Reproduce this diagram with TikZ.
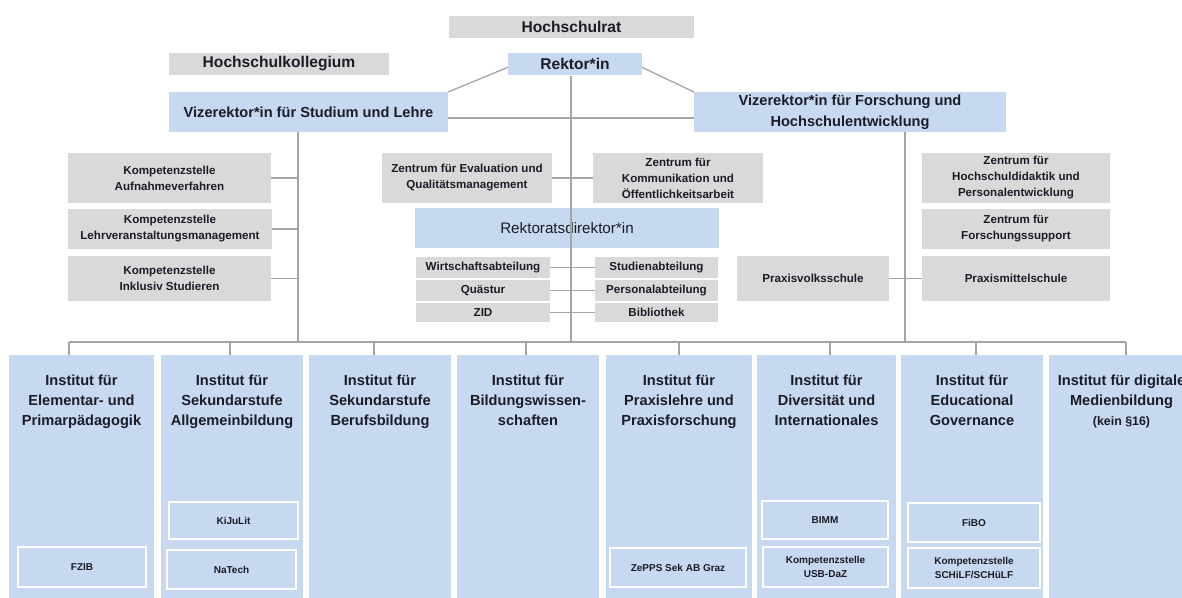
\documentclass[tikz,border=0pt]{standalone}
\usepackage{fontspec}
\setmainfont{Liberation Sans}
\usetikzlibrary{calc}
\definecolor{gboxc}{RGB}{217,217,217}
\definecolor{bboxc}{RGB}{198,217,240}
\definecolor{linc}{RGB}{165,165,165}
\definecolor{txtc}{RGB}{28,28,40}
\newcommand\ftop{\fontsize{7.8}{9}\selectfont\bfseries}
\newcommand\fvr{\fontsize{7.3}{10.3}\selectfont\bfseries}
\newcommand\frd{\fontsize{7.6}{9}\selectfont}
\newcommand\fsm{\fontsize{5.8}{8}\selectfont\bfseries}
\newcommand\finst{\fontsize{7.3}{10}\selectfont\bfseries}
\newcommand\fsub{\fontsize{5}{6.7}\selectfont\bfseries}
% style, name, x1, y1, x2, y2, text  (pixel coordinates)
\newcommand\boxnode[7]{%
  \pgfmathsetmacro\bxw{(#5-#3)*0.5}%
  \pgfmathsetmacro\bxh{(#6-#4)*0.5}%
  \node[#1, minimum width=\bxw pt, minimum height=\bxh pt] (#2) at ({(#3+#5)/2},{(#4+#6)/2}) {#7};}
\begin{document}
\begin{tikzpicture}[x=0.5pt,y=-0.5pt,
  box/.style={inner sep=0pt, outer sep=0pt, align=center, text=txtc},
  greybox/.style={box, fill=gboxc},
  bluebox/.style={box, fill=bboxc},
  subbox/.style={box, fill=bboxc, draw=white, line width=0.75pt, font=\fsub},
  smallbox/.style={greybox, font=\fsm},
  insttitle/.style={inner sep=0pt, outer sep=0pt, align=center, text=txtc, anchor=north, font=\finst},
  conn/.style={draw=linc, line width=0.65pt}]
\useasboundingbox (0,0) rectangle (1182,598);
\clip (0,0) rectangle (1182,598);

% top level
\boxnode{greybox, font=\ftop}{hr}{449}{16}{694}{38}{Hochschulrat}
\boxnode{greybox, font=\ftop}{hk}{169}{53}{389}{75}{Hochschulkollegium}
\boxnode{bluebox, font=\ftop}{rek}{508}{53}{642}{75}{Rektor*in}
\boxnode{bluebox, font=\fvr}{vrl}{169}{92}{448}{132}{Vizerektor*in für Studium und Lehre}
\boxnode{bluebox, font=\fvr}{vrr}{694}{92}{1006}{132}{Vizerektor*in für Forschung und\\Hochschulentwicklung}

% left column
\boxnode{smallbox}{ka}{68}{153}{271}{203}{Kompetenzstelle\\Aufnahmeverfahren}
\boxnode{smallbox}{kl}{68}{209}{272}{249}{Kompetenzstelle\\Lehrveranstaltungsmanagement}
\boxnode{smallbox}{ki}{68}{256}{271}{301}{Kompetenzstelle\\Inklusiv Studieren}

% middle
\boxnode{smallbox}{zeq}{382}{153}{552}{203}{Zentrum für Evaluation und\\Qualitätsmanagement}
\boxnode{smallbox}{zko}{593}{153}{763}{203}{Zentrum für\\Kommunikation und\\Öffentlichkeitsarbeit}
\boxnode{bluebox, font=\frd}{rd}{415}{208}{719}{248}{Rektoratsdirektor*in}
\boxnode{smallbox}{wa}{416}{257}{550}{278}{Wirtschaftsabteilung}
\boxnode{smallbox}{qu}{416}{280}{550}{301}{Quästur}
\boxnode{smallbox}{zid}{416}{303}{550}{322}{ZID}
\boxnode{smallbox}{sa}{595}{257}{718}{278}{Studienabteilung}
\boxnode{smallbox}{pa}{595}{280}{718}{301}{Personalabteilung}
\boxnode{smallbox}{bib}{595}{303}{718}{322}{Bibliothek}

% right column
\boxnode{smallbox}{zhd}{922}{153}{1110}{203}{Zentrum für\\Hochschuldidaktik und\\Personalentwicklung}
\boxnode{smallbox}{zfs}{922}{209}{1110}{249}{Zentrum für\\Forschungssupport}
\boxnode{smallbox}{pms}{922}{256}{1110}{301}{Praxismittelschule}
\boxnode{smallbox}{pvs}{737}{256}{889}{301}{Praxisvolksschule}

% institutes
\boxnode{bluebox}{i1}{9}{355}{154}{610}{}
\boxnode{bluebox}{i2}{161}{355}{303}{610}{}
\boxnode{bluebox}{i3}{309}{355}{451}{610}{}
\boxnode{bluebox}{i4}{457}{355}{599}{610}{}
\boxnode{bluebox}{i5}{606}{355}{752}{610}{}
\boxnode{bluebox}{i6}{757}{355}{896}{610}{}
\boxnode{bluebox}{i7}{901}{355}{1043}{610}{}
\boxnode{bluebox}{i8}{1049}{355}{1194}{610}{}

\node[insttitle] (t1) at (i1.north |- 0,375) {Institut für\\Elementar- und\\Primarpädagogik};
\node[insttitle] (t2) at (i2.north |- 0,375) {Institut für\\Sekundarstufe\\Allgemeinbildung};
\node[insttitle] (t3) at (i3.north |- 0,375) {Institut für\\Sekundarstufe\\Berufsbildung};
\node[insttitle] (t4) at (i4.north |- 0,375) {Institut für\\Bildungswissen-\\schaften};
\node[insttitle] (t5) at (i5.north |- 0,375) {Institut für\\Praxislehre und\\Praxisforschung};
\node[insttitle] (t6) at (i6.north |- 0,375) {Institut für\\Diversität und\\Internationales};
\node[insttitle] (t7) at (i7.north |- 0,375) {Institut für\\Educational\\Governance};
\node[insttitle] (t8) at (i8.north |- 0,375) {Institut für digitale\\Medienbildung\\{\fontsize{6.2}{8}\selectfont\bfseries (kein §16)}};

% sub units
\boxnode{subbox}{fzib}{18}{547}{146}{587}{FZIB}
\boxnode{subbox}{kijulit}{169}{502}{298}{539}{KiJuLit}
\boxnode{subbox}{natech}{167}{550}{296}{589}{NaTech}
\boxnode{subbox}{zepps}{610}{548}{746}{587}{ZePPS Sek AB Graz}
\boxnode{subbox}{bimm}{762}{501}{888}{539}{BIMM}
\boxnode{subbox}{usb}{763}{547}{888}{587}{Kompetenzstelle\\USB-DaZ}
\boxnode{subbox}{fibo}{908}{503}{1040}{542}{FiBO}
\boxnode{subbox}{schilf}{908}{548}{1040}{588}{Kompetenzstelle\\SCHiLF/SCHüLF}

% coordinates for lines
\coordinate (vl) at (298,132);
\coordinate (vm) at (571,76);
\coordinate (vr) at (905,132);
\coordinate (hy) at (0,118);
\coordinate (d1) at (69,342);
\coordinate (d2) at (230,342);
\coordinate (d3) at (374,342);
\coordinate (d4) at (526,342);
\coordinate (d5) at (679,342);
\coordinate (d6) at (830,342);
\coordinate (d7) at (976,342);
\coordinate (d8) at (1126,342);

% connectors
\draw[conn] ($(rek.west)!0.3!(rek.south west)$) -- (vrl.north east);
\draw[conn] ($(rek.east)!0.3!(rek.south east)$) -- (vrr.north west);
\draw[conn] (vrl.east |- hy) -- (vrr.west |- hy);
\draw[conn] (vm) -- (vm |- d1);
\draw[conn] (vl) -- (vl |- d1);
\draw[conn] (vr) -- (vr |- d1);
\draw[conn] (ka.east) -- (ka.east -| vl);
\draw[conn] (kl.east) -- (kl.east -| vl);
\draw[conn] (ki.east) -- (ki.east -| vl);
\draw[conn] (zeq.east) -- (zko.west);
\draw[conn] (wa.east) -- (sa.west);
\draw[conn] (qu.east) -- (pa.west);
\draw[conn] (zid.east) -- (bib.west);
\draw[conn] ($(zhd.north west)!0.3!(zhd.south west)$) -- ($(zhd.north west)!0.3!(zhd.south west)$ -| vr);
\draw[conn] ($(zfs.north west)!0.28!(zfs.south west)$) -- ($(zfs.north west)!0.28!(zfs.south west)$ -| vr);
\draw[conn] (pvs.east) -- (pms.west);
\draw[conn] (d1) -- (d8);
\draw[conn] (d1) -- (d1 |- i1.north);
\draw[conn] (d2) -- (d2 |- i2.north);
\draw[conn] (d3) -- (d3 |- i3.north);
\draw[conn] (d4) -- (d4 |- i4.north);
\draw[conn] (d5) -- (d5 |- i5.north);
\draw[conn] (d6) -- (d6 |- i6.north);
\draw[conn] (d7) -- (d7 |- i7.north);
\draw[conn] (d8) -- (d8 |- i8.north);
\end{tikzpicture}
\end{document}
